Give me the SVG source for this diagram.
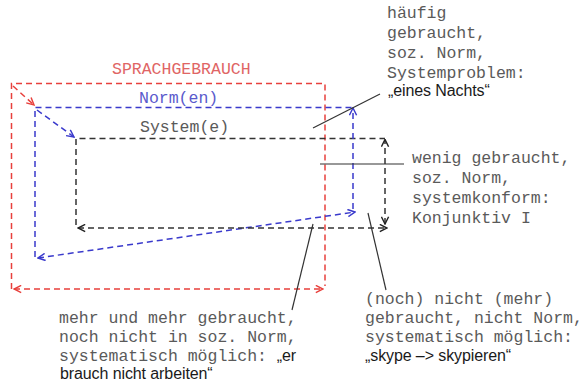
<svg xmlns="http://www.w3.org/2000/svg" width="584" height="381" viewBox="0 0 584 381">
<style>
.mono{font-family:"Liberation Mono","Courier New",monospace;font-size:16.5px;fill:#5a5a5a}
.sans{font-family:"Liberation Sans",Arial,sans-serif;font-size:16px;fill:#1a1a1a;letter-spacing:-0.1px}
.r{stroke:#e8403c;stroke-width:1.5;fill:none;stroke-dasharray:6 4}
.b{stroke:#3a3acc;stroke-width:1.5;fill:none;stroke-dasharray:6 4}
.k{stroke:#333;stroke-width:1.5;fill:none;stroke-dasharray:6 4}
.ln{stroke:#333;stroke-width:1.2;fill:none}
</style>
<defs>
<marker id="mr" viewBox="0 0 10 10" refX="9" refY="5" markerWidth="9" markerHeight="9" markerUnits="userSpaceOnUse" orient="auto-start-reverse"><path d="M1,1 L9,5 L1,9" fill="none" stroke="#e8403c" stroke-width="1.6"/></marker>
<marker id="mb" viewBox="0 0 10 10" refX="9" refY="5" markerWidth="9" markerHeight="9" markerUnits="userSpaceOnUse" orient="auto-start-reverse"><path d="M1,1 L9,5 L1,9" fill="none" stroke="#3a3acc" stroke-width="1.6"/></marker>
<marker id="mk" viewBox="0 0 10 10" refX="9" refY="5" markerWidth="9" markerHeight="9" markerUnits="userSpaceOnUse" orient="auto-start-reverse"><path d="M1,1 L9,5 L1,9" fill="none" stroke="#222" stroke-width="1.6"/></marker>
</defs>
<rect width="584" height="381" fill="#fff"/>
<g id="sprachgebrauch">
<path class="r" d="M11.5,289 V83.5 H325 V286"/>
<text class="mono" x="112" y="74" style="fill:#e06565">SPRACHGEBRAUCH</text>
</g>
<g id="normen">
<path class="b" d="M35,257 V107.5 H353"/>
<text class="mono" x="139" y="103" style="fill:#5a5acc">Norm(en)</text>
</g>
<g id="systeme">
<path class="k" d="M76,225 V138.5 H385"/>
<text class="mono" x="140" y="132">System(e)</text>
</g>
<g id="connectors">
<path class="r" d="M13,86 L34,105" marker-end="url(#mr)"/>
<path class="r" d="M14,289 H323" marker-start="url(#mr)" marker-end="url(#mr)"/>
<path class="b" d="M37,110 L74,137" marker-end="url(#mb)"/>
<path class="b" d="M353,209 V108" marker-end="url(#mb)"/>
<path class="b" d="M38,258 L355,212" marker-start="url(#mb)" marker-end="url(#mb)"/>
<path class="k" d="M385,224 V139.5" marker-start="url(#mk)" marker-end="url(#mk)"/>
<path class="k" d="M78,228 H387" marker-start="url(#mk)" marker-end="url(#mk)"/>
<path class="ln" d="M313,128 L380,94"/>
<path class="ln" d="M320,164 H404"/>
<path class="ln" d="M313,224 L292,310"/>
<path class="ln" d="M368,213 L386,290"/>
</g>
<g id="label-haeufig">
<text class="mono" x="387" y="18">häufig</text>
<text class="mono" x="387" y="38">gebraucht,</text>
<text class="mono" x="387" y="58">soz. Norm,</text>
<text class="mono" x="387" y="78">Systemproblem:</text>
<text class="sans" x="388" y="96">„eines Nachts“</text>
</g>
<g id="label-wenig">
<text class="mono" x="412" y="163">wenig gebraucht,</text>
<text class="mono" x="412" y="183">soz. Norm,</text>
<text class="mono" x="412" y="203">systemkonform:</text>
<text class="mono" x="412" y="223">Konjunktiv I</text>
</g>
<g id="label-mehr">
<text class="mono" x="59" y="323">mehr und mehr gebraucht,</text>
<text class="mono" x="59" y="342">noch nicht in soz. Norm,</text>
<text class="mono" x="59" y="361">systematisch möglich: <tspan class="sans">„er</tspan></text>
<text class="sans" x="60" y="379">brauch nicht arbeiten“</text>
</g>
<g id="label-noch">
<text class="mono" x="365" y="304">(noch) nicht (mehr)</text>
<text class="mono" x="365" y="323">gebraucht, nicht Norm,</text>
<text class="mono" x="365" y="342">systematisch möglich:</text>
<text class="sans" x="365" y="361">„skype –&gt; skypieren“</text>
</g>
</svg>
